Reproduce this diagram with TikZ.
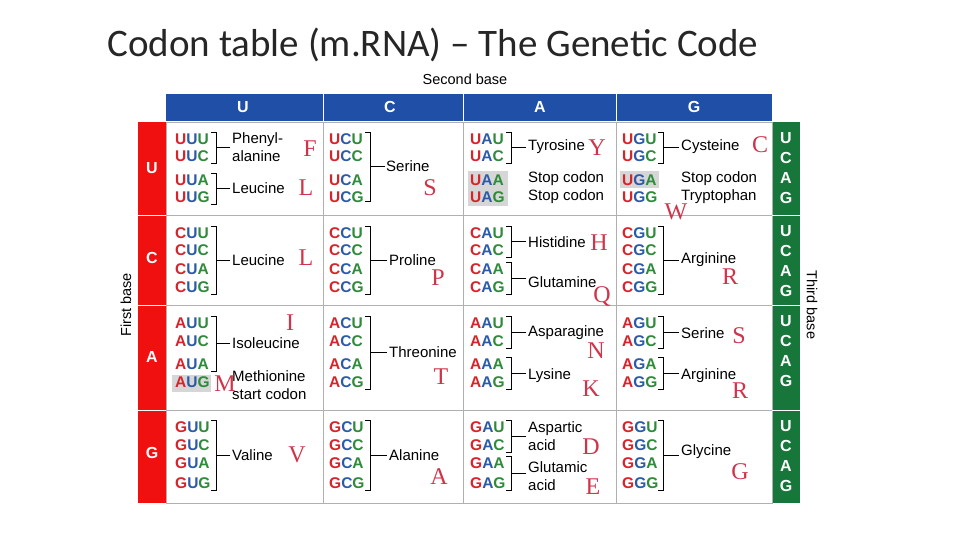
\documentclass[tikz,border=0pt]{standalone}
\usepackage{fontspec}
\setmainfont{Liberation Serif}
\setsansfont{Liberation Sans}
\newfontfamily\titlefont{Carlito}
\definecolor{hdrblue}{HTML}{1F4FA6}
\definecolor{barred}{HTML}{F01010}
\definecolor{bargreen}{HTML}{17773A}
\definecolor{cred}{HTML}{D8232A}
\definecolor{cblue}{HTML}{2A5AA8}
\definecolor{cgreen}{HTML}{2E8B3A}
\definecolor{aared}{HTML}{D0344A}
\definecolor{gridgray}{HTML}{B0B0B0}
\definecolor{stopgray}{HTML}{D6D6D6}
\newcommand{\cod}[3]{\textcolor{cred}{#1}\textcolor{cblue}{#2}\textcolor{cgreen}{#3}}
\newcommand{\brk}[4]{% x, ytop, ybot, line end
  \draw[thick] (#1-5,#2-7) -- (#1,#2-7) -- (#1,#3+7) -- (#1-5,#3+7);
  \draw[thick] (#1,{(#2+#3)/2}) -- (#4,{(#2+#3)/2});}
\tikzset{
  codon/.style={font=\sffamily\bfseries\fontsize{15.5}{16}\selectfont, anchor=west, inner sep=0pt},
  aname/.style={font=\sffamily\fontsize{15}{17.5}\selectfont, anchor=west, inner sep=1pt, align=left},
  aaletter/.style={font=\fontsize{24}{25}\selectfont, text=aared},
  barletter/.style={font=\sffamily\bfseries\fontsize{16}{17}\selectfont, text=white},
}
\begin{document}
\begin{tikzpicture}[x=1pt,y=-1pt]
\useasboundingbox (0,0) rectangle (960,540);
\node[anchor=west, font=\titlefont\fontsize{39}{41}\selectfont, text=black!85] (title) at (104,45) {Codon table (m.RNA) \textendash{} The Genetic Code};
\node[font=\sffamily\fontsize{14.5}{15}\selectfont] (second) at (465,79) {Second base};

% bars
\fill[hdrblue] (166,94) rectangle (772,121);
\fill[barred] (138,122) rectangle (166,503);
\fill[bargreen] (772,122) rectangle (800,503);
\draw[gridgray] (166,122) rectangle (772,503);
\foreach \x in {323,463,616} {
  \draw[gridgray] (\x,122) -- (\x,503);
  \draw[white] (\x,94) -- (\x,121);
}
\foreach \y in {215,305,410} {
  \draw[gridgray] (166,\y) -- (772,\y);
  \draw[white] (138,\y) -- (166,\y);
  \draw[white] (772,\y) -- (800,\y);
}
\node[rotate=90, font=\sffamily\fontsize{14.5}{15}\selectfont] (first) at (126,305) {First base};
\node[rotate=-90, font=\sffamily\fontsize{14.5}{15}\selectfont] (third) at (812,305) {Third base};

% header and side letters
\foreach \b/\x in {U/243,C/390,A/540,G/694}
  \node[barletter] (hdr\b) at (\x,107) {\b};
\foreach \b/\y/\t in {U/168/122,C/258/215,A/357/305,G/453/410} {
  \node[barletter] (row\b) at (152,\y) {\b};
  \foreach \c [count=\i] in {U,C,A,G}
    \node[barletter] (third\b\c) at (786,\t+20*\i-4) {\c};
}

% stop / start highlights
\fill[stopgray] (468,171) rectangle (508,206);
\fill[stopgray] (620,171) rectangle (659,188);
\fill[stopgray] (172,375) rectangle (211,392);

% codons
\foreach \f/\ya/\yb/\yc/\yd in {U/139/156/180/197, C/233/250/269/287, A/323/341/364/382, G/427/445/463/483}
  \foreach \s/\x in {U/175,C/329,A/470,G/622}
    \foreach \t/\y in {U/\ya,C/\yb,A/\yc,G/\yd}
      \node[codon] (\f\s\t) at (\x,\y) {\cod{\f}{\s}{\t}};

% column U
\brk{216}{139}{156}{230}
\node[aname] (phe) at (231,147) {Phenyl-\\alanine};
\brk{216}{180}{197}{230}
\node[aname] (leu1) at (231,188) {Leucine};
\brk{216}{233}{287}{230}
\node[aname] (leu2) at (231,260) {Leucine};
\brk{216}{323}{364}{230}
\node[aname] (ile) at (231,343) {Isoleucine};
\node[aname] (met) at (231,385) {Methionine\\start codon};
\brk{216}{427}{483}{230}
\node[aname] (val) at (231,455) {Valine};

% column C
\brk{370}{139}{194}{385}
\node[aname] (ser1) at (385,166) {Serine};
\brk{370}{233}{287}{387}
\node[aname] (pro) at (388,260) {Proline};
\brk{370}{323}{382}{387}
\node[aname] (thr) at (388,352) {Threonine};
\brk{370}{427}{483}{387}
\node[aname] (ala) at (388,455) {Alanine};

% column A
\brk{511}{139}{156}{526}
\node[aname] (tyr) at (527,147) {Tyrosine};
\node[aname] (stop1) at (527,179) {Stop codon};
\node[aname] (stop2) at (527,197) {Stop codon};
\brk{511}{233}{250}{526}
\node[aname] (his) at (527,242) {Histidine};
\brk{511}{269}{287}{526}
\node[aname] (gln) at (527,282) {Glutamine};
\brk{511}{323}{341}{526}
\node[aname] (asn) at (527,333) {Asparagine};
\brk{511}{364}{382}{526}
\node[aname] (lys) at (527,376) {Lysine};
\brk{511}{427}{445}{526}
\node[aname] (asp) at (527,436) {Aspartic\\acid};
\brk{511}{463}{483}{526}
\node[aname] (glu) at (527,476) {Glutamic\\acid};

% column G
\brk{663}{139}{156}{679}
\node[aname] (cys) at (680,147) {Cysteine};
\node[aname] (stop3) at (680,179) {Stop codon};
\node[aname] (trp) at (680,197) {Tryptophan};
\brk{663}{233}{287}{679}
\node[aname] (arg1) at (680,260) {Arginine};
\brk{663}{323}{341}{679}
\node[aname] (ser2) at (680,333) {Serine};
\brk{663}{364}{382}{679}
\node[aname] (arg2) at (680,376) {Arginine};
\brk{663}{427}{483}{679}
\node[aname] (gly) at (680,452) {Glycine};

% one-letter codes
\foreach \l/\x/\y [count=\n] in {F/310/149, L/306/188, S/430/188, Y/597/148, C/760/145, W/676/212,
  L/306/258, P/438/278, H/599/243, R/730/277, Q/602/296,
  I/290/323, N/596/351, S/739/336, M/225/384, T/441/377, K/591/389, R/740/391,
  V/297/455, D/591/447, A/439/477, E/593/487, G/740/472}
  \node[aaletter] (aa\n) at (\x,\y) {\l};
\end{tikzpicture}
\end{document}
